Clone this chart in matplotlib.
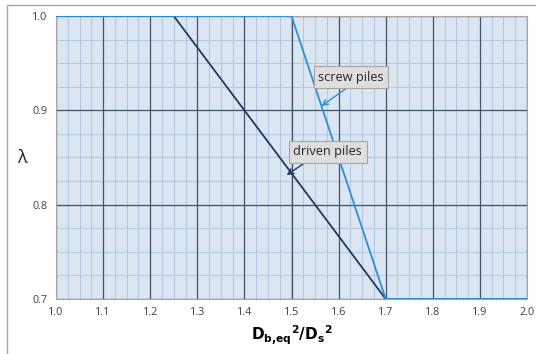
import matplotlib
matplotlib.use("Agg")
import matplotlib.pyplot as plt
from matplotlib.patches import Rectangle
import numpy as np

plt.rcParams['font.family'] = ['Open Sans', 'DejaVu Sans']

# data
driven_x = [1.0, 1.25, 1.7, 2.0]
driven_y = [1.0, 1.0, 0.7, 0.7]
screw_x = [1.0, 1.5, 1.7, 2.0]
screw_y = [1.0, 1.0, 0.7, 0.7]
x_ticks = [1.0, 1.1, 1.2, 1.3, 1.4, 1.5, 1.6, 1.7, 1.8, 1.9, 2.0]
y_ticks = [0.7, 0.8, 0.9, 1.0]

fig = plt.figure(figsize=(5.36, 3.54), dpi=100)
fig.patch.set_facecolor('white')
# outer frame
fig.patches.append(Rectangle((7/536, -0.1), 1.2, 1 - 5/354 + 0.1, transform=fig.transFigure,
                             fill=False, edgecolor='#A6A6A6', linewidth=1.0))

ax = fig.add_axes([56/536, 1 - 299/354, 471/536, 283/354])
ax.set_facecolor('#DCE6F2')
ax.set_xlim(1.0, 2.0)
ax.set_ylim(0.7, 1.0)

# minor grid
for xv in np.arange(1.0, 2.0001, 0.025):
    ax.axvline(xv, color='#B4C8E4', lw=0.8, zorder=1)
for yv in np.arange(0.7, 1.0001, 0.025):
    ax.axhline(yv, color='#B4C8E4', lw=0.8, zorder=1)
# major grid
for xv in x_ticks:
    ax.axvline(xv, color='#44546A', lw=0.9, zorder=1.5)
for yv in y_ticks:
    ax.axhline(yv, color='#44546A', lw=0.9, zorder=1.5)

ax.plot(driven_x, driven_y, color='#1F3864', lw=1.3, zorder=3)
ax.plot(screw_x, screw_y, color='#2E8FD6', lw=1.3, zorder=4)

ax.set_xticks(x_ticks)
ax.set_xticklabels([f'{v:.1f}' for v in x_ticks])
ax.set_yticks(y_ticks)
ax.set_yticklabels([f'{v:.1f}' for v in y_ticks])
ax.tick_params(length=0, labelsize=7.8, colors='#404040', pad=6)
for s in ax.spines.values():
    s.set_color('#A6A6A6')
    s.set_linewidth(0.8)

ax.set_xlabel(r'$\mathbf{D_{b{,}eq}}^{\mathbf{2}}\mathbf{/D_s}^{\mathbf{2}}$', fontsize=11, labelpad=4)
fig.text(22/536, 1 - 158/354, 'λ', fontsize=13, ha='center', va='center', color='#222222')

bbox = dict(boxstyle='square,pad=0.35', facecolor='#DEDEDE', edgecolor='#A6A6A6', lw=0.8)
ax.text(1.626, 0.935, 'screw piles', fontsize=9.2, ha='center', va='center', bbox=bbox, zorder=6,
        color='#262626')
ax.text(1.577, 0.856, 'driven piles', fontsize=9.2, ha='center', va='center', bbox=bbox, zorder=6,
        color='#262626')
ax.annotate('', xy=(1.5636, 0.9046), xytext=(1.624, 0.926),
            arrowprops=dict(arrowstyle='->', color='#2E8FD6', lw=1.0, shrinkA=0, shrinkB=0), zorder=5)
ax.annotate('', xy=(1.4897, 0.8313), xytext=(1.533, 0.846),
            arrowprops=dict(arrowstyle='->', color='#1F3864', lw=1.0, shrinkA=0, shrinkB=0), zorder=5)

fig.savefig('out.png', dpi=100)
